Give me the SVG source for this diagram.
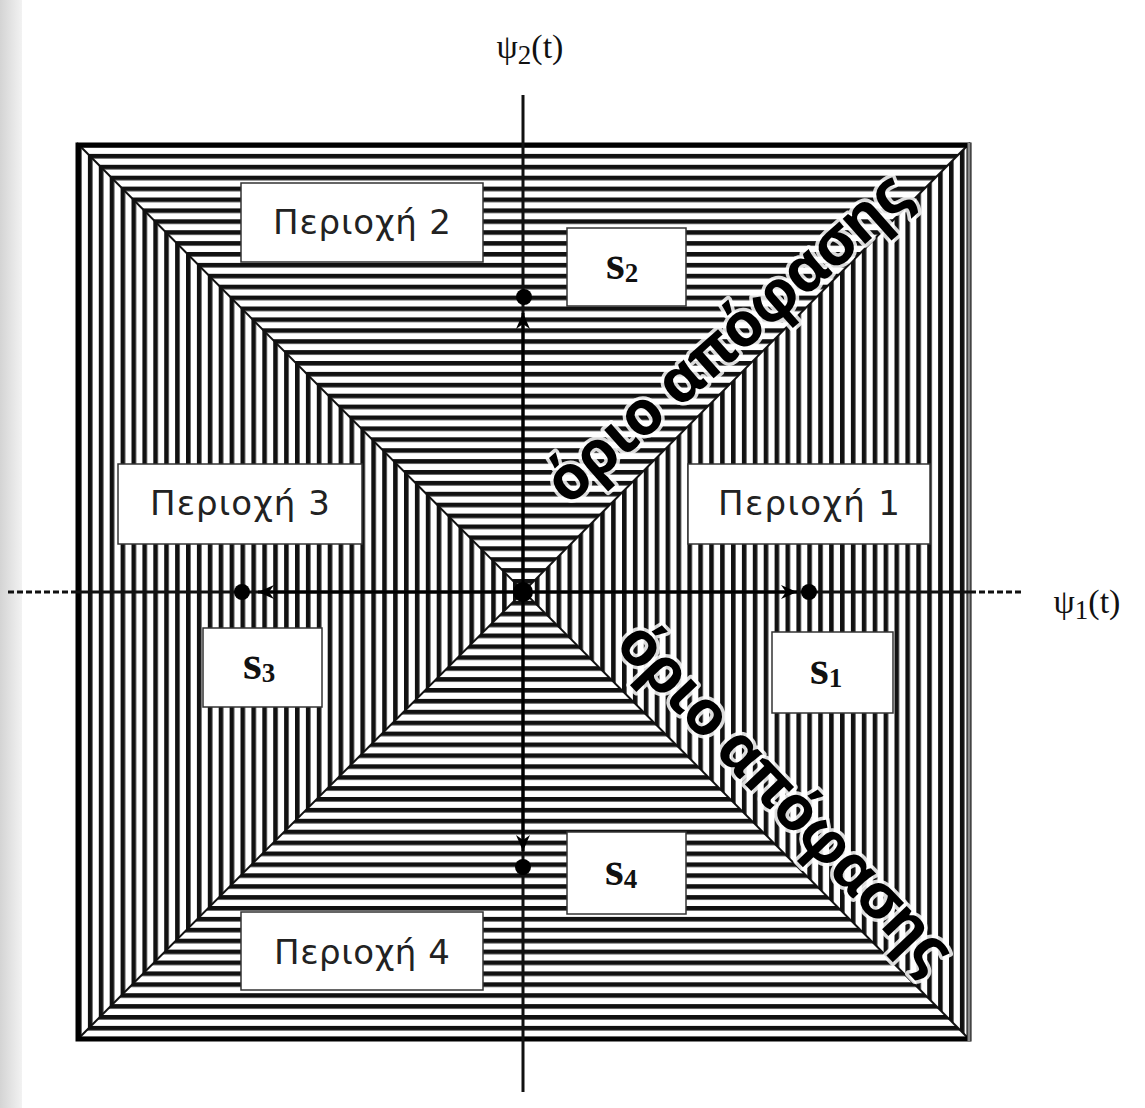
<svg xmlns="http://www.w3.org/2000/svg" width="1145" height="1108" viewBox="0 0 1145 1108">
<defs>
<linearGradient id="side" x1="0" y1="0" x2="1" y2="0">
<stop offset="0" stop-color="#d4d4d4"/>
<stop offset="1" stop-color="#f2f2f2"/>
</linearGradient>
<pattern id="hz" patternUnits="userSpaceOnUse" x="0" y="143" width="40" height="10.9">
<rect x="0" y="0" width="40" height="4.6" fill="#111"/>
</pattern>
<pattern id="vt" patternUnits="userSpaceOnUse" x="77" y="0" width="10.9" height="40">
<rect x="0" y="0" width="4.6" height="40" fill="#111"/>
</pattern>
<marker id="ah" viewBox="0 0 16 14" refX="16" refY="7" markerWidth="16" markerHeight="14" markerUnits="userSpaceOnUse" orient="auto">
<path d="M0,0 L16,7 L0,14 L5,7 Z" fill="#000"/>
</marker>
<style>
.box{fill:#fff;stroke:#333;stroke-width:1.5}
.lbl{font-family:"DejaVu Sans","Noto Sans",sans-serif;font-size:34px;fill:#222;text-anchor:middle}
.sv{font-family:"Liberation Serif","DejaVu Serif",serif;font-weight:bold;font-size:48px;fill:#111}
.sub{font-size:27px}
.ax{font-family:"Liberation Serif","DejaVu Serif",serif;font-size:34px;fill:#111}
.bd{font-family:"Open Sans","Noto Sans",sans-serif;font-weight:bold;font-size:62px;fill:#000;stroke:#fff;stroke-width:7;stroke-linejoin:round;paint-order:stroke;stroke-opacity:0.85;text-anchor:middle}
.axis{stroke:#111;stroke-width:3;fill:none}
.dot{fill:#000}
</style>
</defs>
<rect x="0" y="0" width="1145" height="1108" fill="#fff"/>
<rect x="0" y="0" width="22" height="1108" fill="url(#side)"/>

<g id="hatch">
<polygon points="77,143 970,143 523.5,591.5" fill="url(#hz)"/>
<polygon points="77,1040 970,1040 523.5,591.5" fill="url(#hz)"/>
<polygon points="77,143 77,1040 523.5,591.5" fill="url(#vt)"/>
<polygon points="970,143 970,1040 523.5,591.5" fill="url(#vt)"/>
<line x1="77" y1="143" x2="970" y2="1040" stroke="#111" stroke-width="2"/>
<line x1="970" y1="143" x2="77" y2="1040" stroke="#111" stroke-width="2"/>
<rect x="78" y="145" width="891" height="894" fill="none" stroke="#000" stroke-width="5"/>
<line x1="969" y1="143" x2="969" y2="1041" stroke="#888" stroke-width="3"/>
</g>

<g id="axes">
<line class="axis" x1="77" y1="592" x2="970" y2="592"/>
<line class="axis" x1="8" y1="592" x2="77" y2="592" stroke-dasharray="6 3"/>
<line class="axis" x1="970" y1="592" x2="1022" y2="592" stroke-dasharray="6 3"/>
<line class="axis" x1="523" y1="95" x2="523" y2="1092"/>
<text class="ax" x="530" y="58" text-anchor="middle">ψ<tspan class="sub" dy="6">2</tspan><tspan dy="-6">(t)</tspan></text>
<text class="ax" x="1087" y="613" text-anchor="middle">ψ<tspan class="sub" dy="6">1</tspan><tspan dy="-6">(t)</tspan></text>
</g>

<g id="connectors">
<line x1="523" y1="592" x2="797" y2="592" stroke="#000" stroke-width="3" marker-end="url(#ah)"/>
<line x1="523" y1="592" x2="258" y2="592" stroke="#000" stroke-width="3" marker-end="url(#ah)"/>
<line x1="523" y1="592" x2="523" y2="313" stroke="#000" stroke-width="3" marker-end="url(#ah)"/>
<line x1="523" y1="592" x2="523" y2="851" stroke="#000" stroke-width="3" marker-end="url(#ah)"/>
</g>

<g id="points">
<circle class="dot" cx="523" cy="592" r="10"/>
<circle class="dot" cx="809" cy="592" r="8"/>
<circle class="dot" cx="242" cy="592" r="8"/>
<circle class="dot" cx="524" cy="297" r="8"/>
<circle class="dot" cx="523" cy="867" r="8"/>
</g>

<g id="region2"><rect class="box" x="241" y="183" width="242" height="79"/><text class="lbl" x="362" y="234" textLength="178">Περιοχή 2</text></g>
<g id="region3"><rect class="box" x="118" y="464" width="244" height="80"/><text class="lbl" x="240" y="515" textLength="180">Περιοχή 3</text></g>
<g id="region1"><rect class="box" x="688" y="464" width="242" height="80"/><text class="lbl" x="809" y="515" textLength="182">Περιοχή 1</text></g>
<g id="region4"><rect class="box" x="241" y="912" width="242" height="78"/><text class="lbl" x="362" y="964" textLength="176">Περιοχή 4</text></g>

<g id="s2"><rect class="box" x="567" y="228" width="119" height="78"/><text class="sv" x="606" y="279">s<tspan class="sub" dy="3">2</tspan></text></g>
<g id="s1"><rect class="box" x="772" y="632" width="121" height="81"/><text class="sv" x="810" y="684">s<tspan class="sub" dy="3">1</tspan></text></g>
<g id="s3"><rect class="box" x="203" y="628" width="119" height="79"/><text class="sv" x="243" y="679">s<tspan class="sub" dy="3">3</tspan></text></g>
<g id="s4"><rect class="box" x="567" y="832" width="119" height="82"/><text class="sv" x="605" y="885">s<tspan class="sub" dy="3">4</tspan></text></g>

<g id="boundary-labels">
<text class="bd" x="741" y="354" textLength="462" transform="rotate(-41.5 741 354)">όριο απόφασης</text>
<text class="bd" x="770" y="811" textLength="455" transform="rotate(46.5 770 811)">όριο απόφασης</text>
</g>
</svg>
